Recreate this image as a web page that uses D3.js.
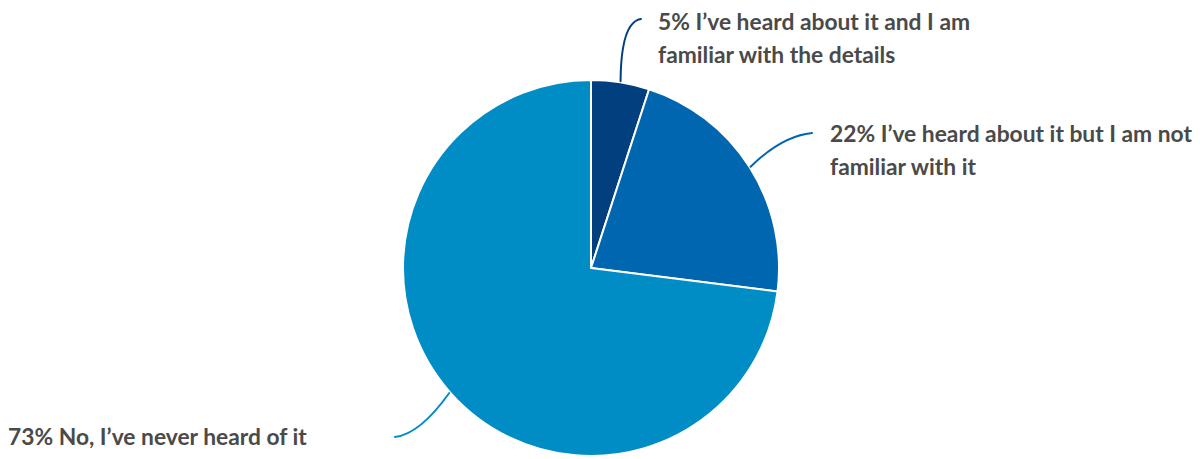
<!DOCTYPE html>
<html>
<head>
<meta charset="utf-8">
<script src="https://cdn.jsdelivr.net/npm/d3@7"></script>
<style>
  html, body { margin: 0; padding: 0; background: #ffffff; }
  svg { display: block; }
</style>
</head>
<body>
<svg id="chart" width="1200" height="459"></svg>
<script>
// Survey answers and their shares (%)
const answers = [
  "I\u2019ve heard about it and I am familiar with the details",
  "I\u2019ve heard about it but I am not familiar with it",
  "No, I\u2019ve never heard of it"
];
const shares = [5, 22, 73];
const sliceColors = ["#023f7f", "#0066b0", "#008dc5"];

// Label text broken into display lines
const labelLines = [
  ["5% I\u2019ve heard about it and I am", "familiar with the details"],
  ["22% I\u2019ve heard about it but I am not", "familiar with it"],
  ["73% No, I\u2019ve never heard of it"]
];

const svg = d3.select("#chart");
const cx = 591, cy = 268, radius = 188;

const data = shares.map((v, i) => ({ label: answers[i], value: v, color: sliceColors[i], lines: labelLines[i] }));

const pie = d3.pie().sort(null).value(d => d.value);
const arcs = pie(data);
const arc = d3.arc().innerRadius(0).outerRadius(radius);

const g = svg.append("g").attr("transform", `translate(${cx},${cy})`);

g.selectAll("path.slice")
  .data(arcs)
  .join("path")
  .attr("class", "slice")
  .attr("d", arc)
  .attr("fill", d => d.data.color)
  .attr("stroke", "#ffffff")
  .attr("stroke-width", 2)
  .attr("stroke-linejoin", "round");

// Label placement: anchor of the text block and the leader's end point
const labelLayout = [
  { x: 658, y: 30, end: [641, 19], ctrl: [621, 22] },
  { x: 830, y: 142, end: [812, 133], ctrl: [782, 136] },
  { x: 8, y: 445, end: [395, 437], ctrl: [420, 434] }
];

const pointAt = (angle, r) => [cx + r * Math.sin(angle), cy - r * Math.cos(angle)];

arcs.forEach((a, i) => {
  const mid = (a.startAngle + a.endAngle) / 2;
  const start = pointAt(mid, radius + 1);
  const L = labelLayout[i];
  const p = d3.path();
  p.moveTo(start[0], start[1]);
  p.quadraticCurveTo(L.ctrl[0], L.ctrl[1], L.end[0], L.end[1]);
  svg.append("path")
    .attr("d", p.toString())
    .attr("fill", "none")
    .attr("stroke", a.data.color)
    .attr("stroke-width", 2)
    .attr("stroke-linecap", "round");

  const t = svg.append("text")
    .attr("x", L.x)
    .attr("y", L.y)
    .attr("font-family", "Lato, 'Open Sans', sans-serif")
    .attr("font-weight", 700)
    .attr("font-size", 22.8)
    .attr("fill", "#4a4a4a");
  a.data.lines.forEach((line, j) => {
    t.append("tspan")
      .attr("x", L.x)
      .attr("dy", j === 0 ? 0 : 32.5)
      .text(line);
  });
});
</script>
</body>
</html>
